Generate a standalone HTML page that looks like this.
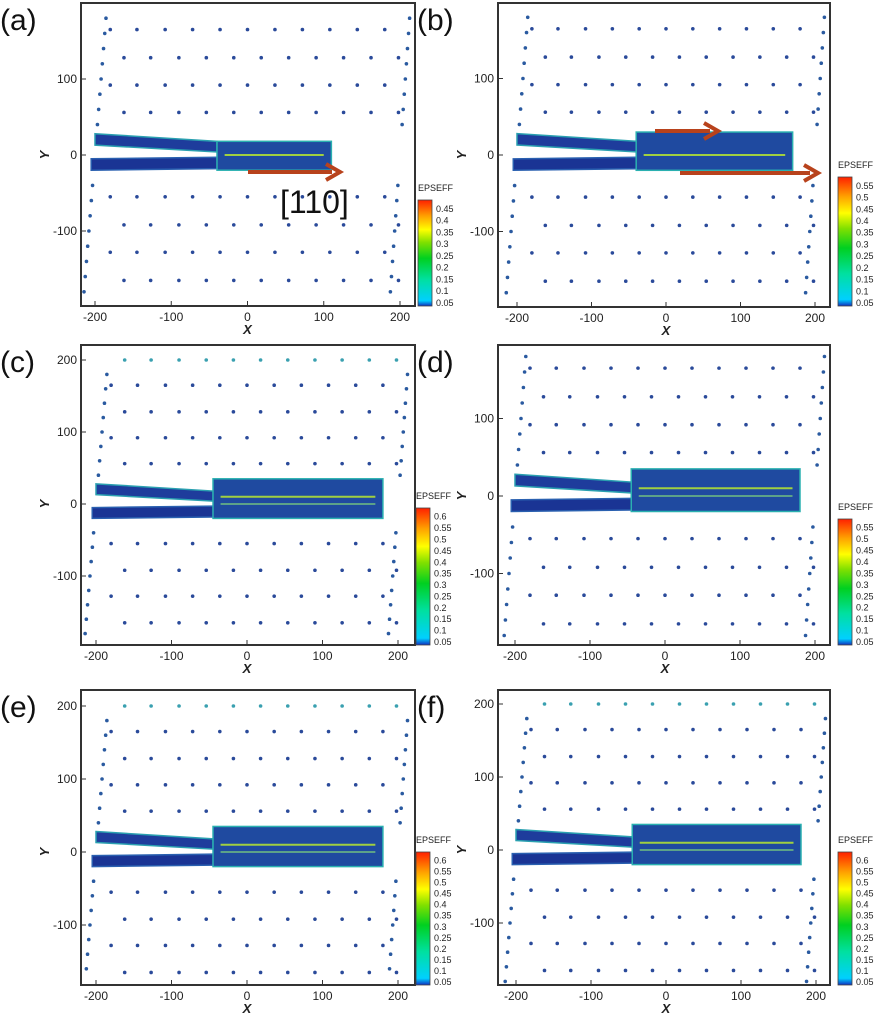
<!DOCTYPE html>
<html><head><meta charset="utf-8">
<style>
body{margin:0;background:#fff;}
svg{display:block;font-family:"Liberation Sans",sans-serif;}
</style></head>
<body>
<svg id="fig" width="885" height="1024" viewBox="0 0 885 1024"></svg>
<script>
// lattice data (atom positions, data units)
const rowY = [200, 165, 128, 92, 56, -55, -92, -128, -165];
const colX = [-180, -145, -108, -72, -36, 0, 36, 72, 108, 144, 180];
const edgeY = [-180, -160, -140, -120, -100, -80, -60, -40, 40, 60, 80, 100, 120, 140, 160, 180];
const tipX = [110, 170, 180, 180, 180, 180];
const zoneStart = [-40, -40, -45, -45, -45, -45];
const zoneTop = [18, 30, 35, 35, 35, 35];
const cbTicks = [[0.05,0.1,0.15,0.2,0.25,0.3,0.35,0.4,0.45],[0.05,0.1,0.15,0.2,0.25,0.3,0.35,0.4,0.45,0.5,0.55],[0.05,0.1,0.15,0.2,0.25,0.3,0.35,0.4,0.45,0.5,0.55,0.6],[0.05,0.1,0.15,0.2,0.25,0.3,0.35,0.4,0.45,0.5,0.55],[0.05,0.1,0.15,0.2,0.25,0.3,0.35,0.4,0.45,0.5,0.55,0.6],[0.05,0.1,0.15,0.2,0.25,0.3,0.35,0.4,0.45,0.5,0.55,0.6]];
const letters = ['a','b','c','d','e','f'];
const xTicks = [-200,-100,0,100,200];
const yTicksList = [[-100,0,100],[-100,0,100],[-100,0,100,200],[-100,0,100],[-100,0,100,200],[-100,0,100,200]];
const P = [
 {L:81,R:415,T:3,B:306,x0:247.5,sx:0.7625,y0:155,sy:0.76,cb:[418,200,306]},
 {L:498,R:830,T:3,B:307,x0:666,sx:0.745,y0:155,sy:0.765,cb:[838,177,306]},
 {L:81,R:415,T:345,B:645,x0:247,sx:0.755,y0:504,sy:0.72,cb:[416,508,645]},
 {L:498,R:830,T:345,B:645,x0:665,sx:0.75,y0:496,sy:0.775,cb:[838,519,645]},
 {L:81,R:415,T:690,B:985,x0:247,sx:0.755,y0:852,sy:0.73,cb:[416,852,985]},
 {L:498,R:830,T:690,B:985,x0:666,sx:0.75,y0:850,sy:0.73,cb:[838,852,985]}
];
const NS='http://www.w3.org/2000/svg';
const svg=document.getElementById('fig');
function mk(tag,attrs,parent,text){const e=document.createElementNS(NS,tag);for(const k in attrs)e.setAttribute(k,attrs[k]);if(text!==undefined)e.textContent=text;(parent||svg).appendChild(e);return e;}
const defs=mk('defs',{});
const g0=mk('linearGradient',{id:'cbg',x1:0,y1:1,x2:0,y2:0},defs);
[['0','#1030c0'],['0.05','#00d0ff'],['0.25','#00e0a0'],['0.45','#00d020'],['0.6','#80e000'],['0.72','#ffff00'],['0.85','#ffa000'],['1','#ff2000']].forEach(s=>mk('stop',{offset:s[0],'stop-color':s[1]},g0));

P.forEach((p,i)=>{
 const X=v=>p.x0+v*p.sx, Y=v=>p.y0-v*p.sy;
 const g=mk('g',{});
 
 
 rowY.forEach((ry,ri)=>colX.forEach((cx,ci)=>{
   const xx=cx+((ri%2)?0:18);
   const px=X(xx),py=Y(ry);
   if(px<p.L+4||px>p.R-4||py<p.T+4||py>p.B-4)return;
   const c=mk('circle',{cx:px,cy:py,r:1.8,fill:(ry>180)?'#3aa0b0':'#2a4a9a'},g);
   
   
 }));
 edgeY.forEach(ey=>{
   const lx=-200+ey*0.08, rx=200+ey*0.07;
   [lx,rx].forEach(xx=>{const px=X(xx),py=Y(ey);if(px<p.L+2||px>p.R-2||py<p.T+2||py>p.B-2)return;
     const c=mk('circle',{cx:px,cy:py,r:1.8,fill:'#2a5aa0'},g);
     
     });
 });
 const tip=tipX[i], zs=zoneStart[i], zt=zoneTop[i];
 const up=mk('polygon',{points:`${X(-200)},${Y(28)} ${X(zs)},${Y(18)} ${X(zs)},${Y(4)} ${X(-200)},${Y(13)}`,fill:'#1e3c9c',stroke:'#2aa0b0','stroke-width':1.5},g);
 
 
 const lo=mk('polygon',{points:`${X(-205)},${Y(-5)} ${X(zs)},${Y(-3)} ${X(zs)},${Y(-18)} ${X(-205)},${Y(-20)}`,fill:'#1a3494',stroke:'#2a60b0','stroke-width':1.5},g);
 
 
 const z=mk('rect',{x:X(zs),y:Y(zt),width:X(tip)-X(zs),height:Y(-20)-Y(zt),fill:'#1f4aa0',stroke:'#2ab0b0','stroke-width':1.5},g);
 
 
 const ln=mk('line',{x1:X(zs+10),y1:Y(i>=2?10:0),x2:X(tip-10),y2:Y(i>=2?10:0),stroke:'#a0d040','stroke-width':2},g);
 
 
 if(i>=2){const l2=mk('line',{x1:X(zs+10),y1:Y(0),x2:X(tip-10),y2:Y(0),stroke:'#70c080','stroke-width':1.5},g);
  
  }
 const fr=mk('rect',{x:p.L,y:p.T,width:p.R-p.L,height:p.B-p.T,fill:'none',stroke:'#333','stroke-width':2},g);
 
 
 xTicks.forEach(t=>{const px=X(t);mk('line',{x1:px,y1:p.B,x2:px,y2:p.B-5,stroke:'#333'},g);
   const tx=mk('text',{x:px,y:p.B+15,'font-size':12,'text-anchor':'middle',fill:'#222'},g,String(t));
   
   });
 yTicksList[i].forEach(t=>{const py=Y(t);mk('line',{x1:p.L,y1:py,x2:p.L+5,y2:py,stroke:'#333'},g);
   const ty=mk('text',{x:p.L-4,y:py+4,'font-size':12,'text-anchor':'end',fill:'#222'},g,String(t));
   
   });
 const xl=mk('text',{x:X(0),y:p.B+28,'font-size':13,'font-weight':'bold','font-style':'italic','text-anchor':'middle',fill:'#222'},g,'X');
 
 
 const yl=mk('text',{x:p.L-36,y:Y(0)+4,'font-size':13,'font-weight':'bold','font-style':'italic','text-anchor':'middle',fill:'#222',transform:`rotate(-90 ${p.L-36} ${Y(0)})`},g,'Y');
 
 
 const lb=mk('text',{x:p.L-81,y:p.T+27,'font-size':30,fill:'#111'},g,'('+letters[i]+')');
 
 
 const [cx,ct,cb]=p.cb;
 const bar=mk('rect',{x:cx,y:ct,width:14,height:cb-ct,fill:'url(#cbg)',stroke:'#444','stroke-width':0.8},g);
 
 
 const ct2=mk('text',{x:cx,y:ct-9,'font-size':9,fill:'#222'},g,'EPSEFF');
 
 
 const ticks=cbTicks[i], n=ticks.length, step=(cb-ct-6)/(n-0.5);
 ticks.forEach((t,k)=>{const ty=cb-3-k*step;
   const tt=mk('text',{x:cx+18,y:ty+3,'font-size':9,fill:'#222'},g,String(t));
   
   });
});
function arrow(x1,y,x2,name){const a=mk('g',{});
 
 
 mk('line',{x1:x1,y1:y,x2:x2-8,y2:y,stroke:'#b8421c','stroke-width':4},a);
 mk('polyline',{points:`${x2-14},${y-8} ${x2},${y} ${x2-14},${y+8}`,fill:'none',stroke:'#b8421c','stroke-width':4},a);}
arrow(248,172,340,'direction-arrow');
arrow(655,131,718,'direction-arrow-upper');
arrow(680,173,818,'direction-arrow-lower');
const d=mk('text',{x:280,y:213,'font-size':32,fill:'#111'},svg,'[110]');


</script>
</body></html>
